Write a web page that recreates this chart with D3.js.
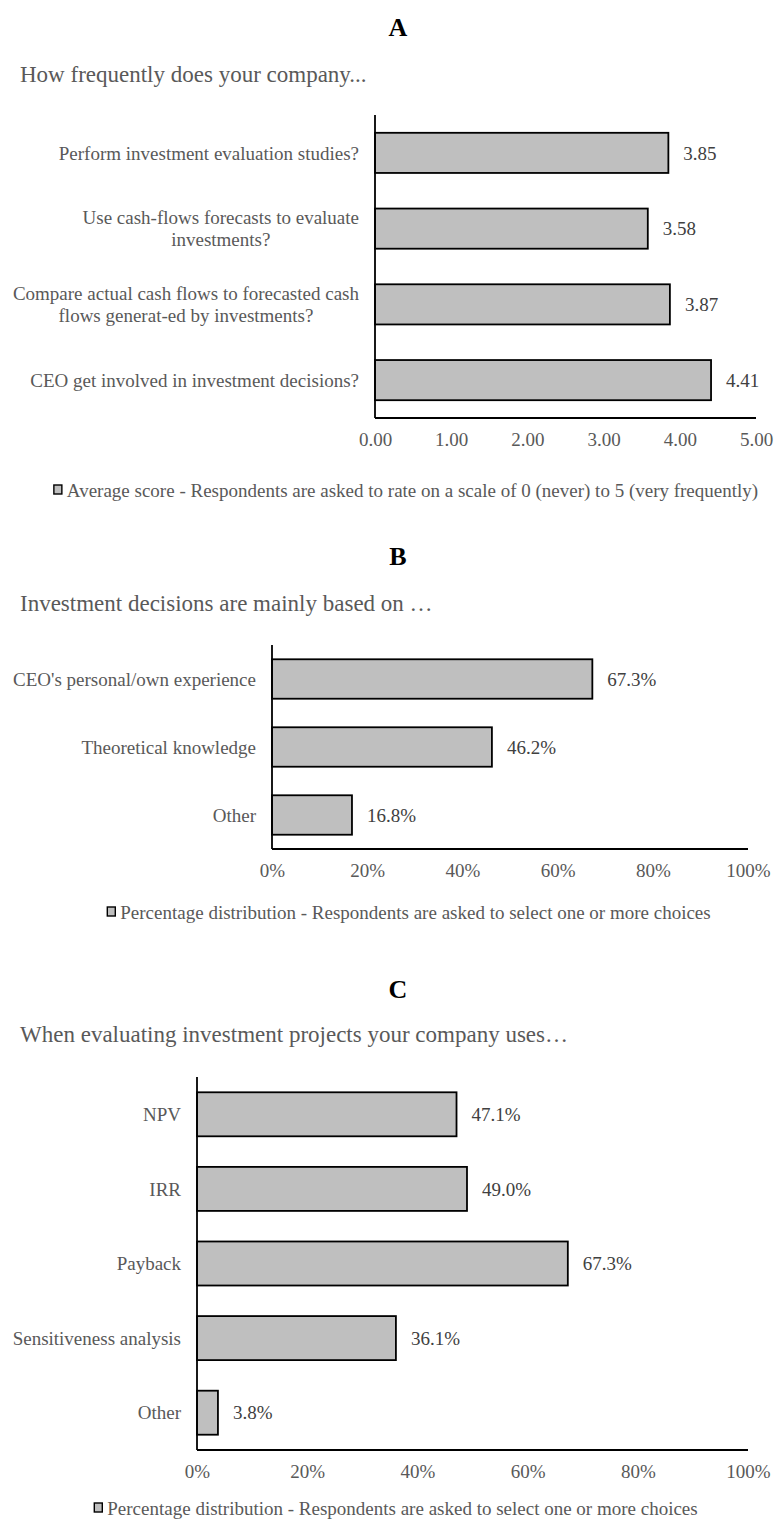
<!DOCTYPE html>
<html>
<head>
<meta charset="utf-8">
<script src="https://cdn.jsdelivr.net/npm/d3@7"></script>
<style>
  html, body { margin: 0; padding: 0; background: #fff; }
  svg { display: block; }
  text { font-family: "Liberation Serif", "Times New Roman", serif; }
</style>
</head>
<body>
<svg id="chart" width="774" height="1526"></svg>
<script>
// Panel A: frequency of practices (average score, 0-5)
const questionsA = [
  "Perform investment evaluation studies?",
  "Use cash-flows forecasts to evaluate\ninvestments?",
  "Compare actual cash flows to forecasted cash\nflows generat-ed by investments?",
  "CEO get involved in investment decisions?"
];
const scoresA = [3.85, 3.58, 3.87, 4.41];
const ticksA = [0, 1, 2, 3, 4, 5];

// Panel B: basis of investment decisions (% of respondents)
const basesB = ["CEO's personal/own experience", "Theoretical knowledge", "Other"];
const sharesB = [67.3, 46.2, 16.8];
const ticksB = [0, 20, 40, 60, 80, 100];

// Panel C: evaluation methods used (% of respondents)
const methodsC = ["NPV", "IRR", "Payback", "Sensitiveness analysis", "Other"];
const sharesC = [47.1, 49.0, 67.3, 36.1, 3.8];
const ticksC = [0, 20, 40, 60, 80, 100];

const svg = d3.select("#chart");
const GREY_TEXT = "#595959";
const BAR_FILL = "#bfbfbf";

function drawPanel(p) {
  const g = svg.append("g");

  // Panel letter
  g.append("text")
    .attr("x", 398).attr("y", p.titleY)
    .attr("text-anchor", "middle")
    .attr("font-size", 26).attr("font-weight", "bold").attr("fill", "#000")
    .text(p.letter);

  // Question heading
  g.append("text")
    .attr("x", 20).attr("y", p.headY)
    .attr("font-size", 23).attr("fill", GREY_TEXT)
    .text(p.heading);

  const x = d3.scaleLinear().domain(p.domain).range([p.x0, p.x1]);
  const y = d3.scaleBand().domain(p.cats).range([p.yTop, p.yBottom])
    .paddingInner(p.pad).paddingOuter(p.pad / 2);

  // Bars
  g.selectAll("rect.bar").data(p.values).join("rect")
    .attr("class", "bar")
    .attr("x", x(0))
    .attr("y", (d, i) => y(p.cats[i]))
    .attr("width", d => x(d) - x(0))
    .attr("height", y.bandwidth())
    .attr("fill", BAR_FILL)
    .attr("stroke", "#000").attr("stroke-width", 1.8);

  // Value labels
  g.selectAll("text.val").data(p.values).join("text")
    .attr("class", "val")
    .attr("x", d => x(d) + 15)
    .attr("y", (d, i) => y(p.cats[i]) + y.bandwidth() / 2)
    .attr("dy", "0.35em")
    .attr("font-size", 19).attr("fill", "#404040")
    .text(p.fmt);

  // Category labels: each block centred on itself, block right-aligned to the axis
  p.cats.forEach(c => {
    const lines = c.split("\n");
    const cy = y(c) + y.bandwidth() / 2;
    const lh = 22;
    const tmp = lines.map((ln, k) => g.append("text")
      .attr("font-size", 19).attr("fill", GREY_TEXT)
      .attr("text-anchor", "middle")
      .attr("y", cy + (k - (lines.length - 1) / 2) * lh)
      .attr("dy", "0.35em")
      .text(ln));
    const w = d3.max(tmp, t => t.node().getComputedTextLength());
    const right = p.x0 - 16;
    tmp.forEach(t => t.attr("x", right - w / 2));
  });

  // Bottom axis with tick labels only
  const xAxis = d3.axisBottom(x).tickValues(p.ticks).tickSize(0).tickPadding(0)
    .tickFormat(p.tickFmt);
  const ax = g.append("g").attr("transform", `translate(0,${p.yBottom})`).call(xAxis);
  ax.select(".domain").attr("stroke", "#000").attr("stroke-width", 1.8)
    .attr("d", `M${p.x0},0H${p.x1}`);
  ax.selectAll(".tick text")
    .attr("font-family", "Liberation Serif, Times New Roman, serif")
    .attr("font-size", 19).attr("fill", GREY_TEXT)
    .attr("dy", null).attr("y", 28);

  // Vertical category axis line
  const yAxis = d3.axisLeft(y).tickSize(0).tickFormat("");
  const ay = g.append("g").attr("transform", `translate(${p.x0},0)`).call(yAxis);
  ay.select(".domain").attr("stroke", "#000").attr("stroke-width", 1.8)
    .attr("d", `M0,${p.yTop}V${p.yBottom}`);

  // Legend, centred under the chart
  const lg = g.append("g");
  const key = lg.append("rect")
    .attr("y", p.legY - 5).attr("width", 8).attr("height", 9)
    .attr("fill", BAR_FILL).attr("stroke", "#000").attr("stroke-width", 1.4);
  const lt = lg.append("text")
    .attr("y", p.legY).attr("dy", "0.35em")
    .attr("font-size", 19).attr("fill", GREY_TEXT)
    .text(p.legend);
  const total = 13 + lt.node().getComputedTextLength();
  const left = p.legCx - total / 2;
  key.attr("x", left);
  lt.attr("x", left + 13);
}

const pct = d => d.toFixed(1) + "%";

drawPanel({
  letter: "A", titleY: 36, heading: "How frequently does your company...", headY: 82,
  cats: questionsA, values: scoresA, ticks: ticksA, domain: [0, 5],
  x0: 375, x1: 756, yTop: 115, yBottom: 418, pad: 0.47,
  fmt: d => d.toFixed(2), tickFmt: d => d.toFixed(2),
  legCx: 406, legY: 490,
  legend: "Average score - Respondents are asked to rate on a scale of 0 (never) to 5 (very frequently)"
});

drawPanel({
  letter: "B", titleY: 565, heading: "Investment decisions are mainly based on …", headY: 611,
  cats: basesB, values: sharesB, ticks: ticksB, domain: [0, 100],
  x0: 272, x1: 748, yTop: 645, yBottom: 849, pad: 0.42,
  fmt: pct, tickFmt: d => d + "%",
  legCx: 409, legY: 912,
  legend: "Percentage distribution - Respondents are asked to select one or more choices"
});

drawPanel({
  letter: "C", titleY: 998, heading: "When evaluating investment projects your company uses…", headY: 1042,
  cats: methodsC, values: sharesC, ticks: ticksC, domain: [0, 100],
  x0: 197, x1: 748, yTop: 1077, yBottom: 1450, pad: 0.41,
  fmt: pct, tickFmt: d => d + "%",
  legCx: 396, legY: 1508,
  legend: "Percentage distribution - Respondents are asked to select one or more choices"
});
</script>
</body>
</html>
